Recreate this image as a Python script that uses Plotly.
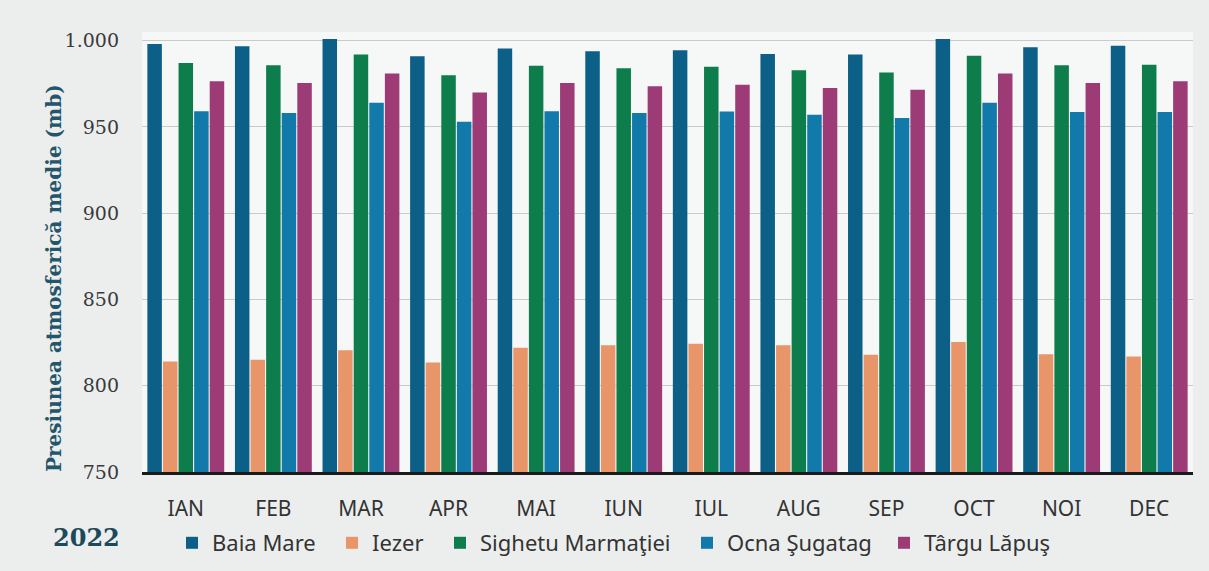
import plotly.graph_objects as go

months = ["IAN", "FEB", "MAR", "APR", "MAI", "IUN", "IUL", "AUG", "SEP", "OCT", "NOI", "DEC"]
baia_mare = [998, 996.7, 1001, 991, 995.4, 993.8, 994.4, 992.3, 991.9, 1001, 996.1, 997]
iezer = [814, 815, 820.5, 813.5, 822, 823.4, 824.3, 823.4, 818, 825.3, 818.3, 817]
sighetu = [987, 985.7, 992, 980, 985.5, 984, 984.8, 982.8, 981.6, 991.3, 985.7, 986]
ocna = [959, 958, 964, 953, 959, 958, 958.9, 957, 955.2, 964, 958.7, 958.7]
targu = [976.4, 975.5, 981, 970, 975.5, 973.5, 974.5, 972.6, 971.6, 980.9, 975.5, 976.4]
tick_vals = [750, 800, 850, 900, 950, 1000]
tick_text = ["750", "800", "850", "900", "950", "1.000"]

series = [
    ("Baia Mare", baia_mare, "#0c5f87"),
    ("Iezer", iezer, "#e9956a"),
    ("Sighetu Marmaţiei", sighetu, "#0e7d4c"),
    ("Ocna Şugatag", ocna, "#1279ab"),
    ("Târgu Lăpuş", targu, "#9d3b77"),
]

W, H = 1209, 571
ml, mr, mt, mb = 142, 16, 32, 99
pw = W - ml - mr
ph = H - mt - mb

legend_marker_px = [190, 350, 458, 705, 902]
legend_names = ["legend", "legend2", "legend3", "legend4", "legend5"]

fig = go.Figure()
for (name, vals, col), lg in zip(series, legend_names):
    fig.add_trace(go.Bar(x=months, y=vals, name=name, legend=lg,
                         marker=dict(color=col, line=dict(width=0))))

legend_layout = {}
for lg, mx in zip(legend_names, legend_marker_px):
    legend_layout[lg] = dict(orientation="h", x=(mx - 18 - ml) / pw, xanchor="left",
                             y=(472 - 543) / ph, yanchor="middle",
                             font=dict(family="Noto Sans", size=22, color="#333333"),
                             bgcolor="rgba(0,0,0,0)", borderwidth=0, itemwidth=30)

fig.update_layout(
    width=W, height=H,
    margin=dict(l=ml, r=mr, t=mt, b=mb, autoexpand=False),
    barmode="group", bargap=0.11, bargroupgap=0.07,
    paper_bgcolor="#eceeee", plot_bgcolor="#f6f7f7",
    showlegend=True,
    yaxis=dict(range=[750, 1005], tickvals=tick_vals, ticktext=tick_text,
               tickfont=dict(family="DejaVu Serif", size=19, color="#3a3a3a"),
               showgrid=True, gridcolor="#c9cbcb", gridwidth=1, zeroline=False,
               ticks="", ticklabelstandoff=22, showline=False, automargin=False),
    xaxis=dict(tickfont=dict(family="Noto Sans", size=21, color="#333333"),
               showline=True, linecolor="#1a1a1a", linewidth=3, ticks="", ticklabelstandoff=16,
               automargin=False),
    annotations=[
        dict(text="<b>Presiunea atmosferică medie (mb)</b>", textangle=-90, xref="paper", yref="paper",
             x=(54 - ml) / pw, y=(472 - 278) / ph, xanchor="center", yanchor="middle", showarrow=False,
             font=dict(family="DejaVu Serif", size=20, color="#23566a")),
        dict(text="<b>2022</b>", xref="paper", yref="paper", x=(86 - ml) / pw, y=(472 - 537) / ph,
             xanchor="center", yanchor="middle", showarrow=False,
             font=dict(family="DejaVu Serif", size=24, color="#1d4a5a")),
    ],
    **legend_layout,
)

fig.write_html("out.html", config={"displayModeBar": False},
               post_script="document.body.style.margin='0px';")
